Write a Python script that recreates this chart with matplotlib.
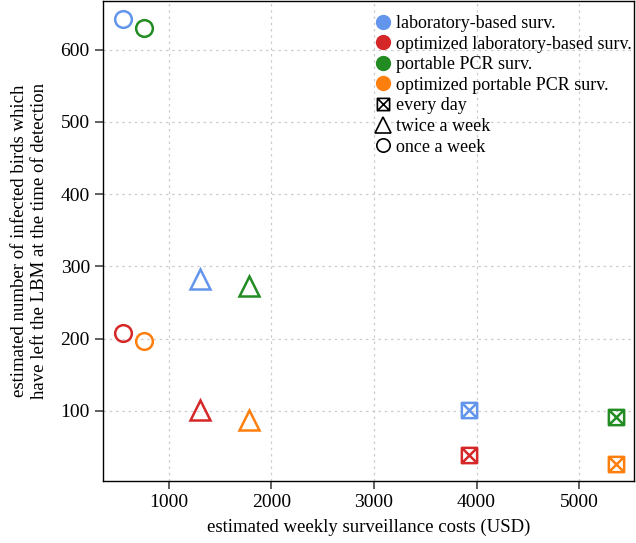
import numpy as np
import matplotlib
matplotlib.use("Agg")
import matplotlib.pyplot as plt
from matplotlib.path import Path
from matplotlib.lines import Line2D

plt.rcParams.update({
    "font.family": "Liberation Serif", "font.size": 13,
    "axes.linewidth": 1.0, "xtick.color": "#444444", "ytick.color": "#444444",
    "xtick.labelcolor": "black", "ytick.labelcolor": "black",
})

# surveillance strategies and their colours
strategies = ["laboratory-based surv.", "optimized laboratory-based surv.",
              "portable PCR surv.", "optimized portable PCR surv."]
colors = ["#6495ED", "#D62728", "#228B22", "#FF7F0E"]

# sampling frequencies
freqs = ["every day", "twice a week", "once a week"]

# costs (USD / week) per strategy: [every day, twice a week, once a week]
cost = {
    "laboratory-based surv.":           [3930, 1305, 553],
    "optimized laboratory-based surv.": [3930, 1305, 553],
    "portable PCR surv.":               [5360, 1783, 760],
    "optimized portable PCR surv.":     [5360, 1783, 760],
}
# infected birds that left the LBM before detection
birds = {
    "laboratory-based surv.":           [102, 283, 642],
    "optimized laboratory-based surv.": [39, 101, 208],
    "portable PCR surv.":               [91, 273, 630],
    "optimized portable PCR surv.":     [27, 88, 197],
}

# square with a cross inside
boxx = Path([(-1, -1), (1, -1), (1, 1), (-1, 1), (-1, -1), (1, 1), (-1, 1), (1, -1)],
            [Path.MOVETO, Path.LINETO, Path.LINETO, Path.LINETO, Path.LINETO,
             Path.LINETO, Path.MOVETO, Path.LINETO])
markers = [boxx, "^", "o"]
msizes = [11, 15, 12]

fig = plt.figure(figsize=(6.36, 5.43), dpi=100)
ax = fig.add_axes([0.162, 0.114, 0.835, 0.884])

for s, col in zip(strategies, colors):
    for i in range(3):
        ax.plot(cost[s][i], birds[s][i], linestyle="none", marker=markers[i],
                markersize=msizes[i], markerfacecolor="none", markeredgecolor=col,
                markeredgewidth=1.8, zorder=3)

ax.set_xlim(360, 5535)
ax.set_ylim(3, 667)
ax.set_xticks([1000, 2000, 3000, 4000, 5000])
ax.set_yticks([100, 200, 300, 400, 500, 600])
ax.tick_params(direction="out", length=6, width=1.2, labelsize=14)
ax.grid(True, color="#CCCCCC", linestyle=(0, (2, 3)), linewidth=0.9)
ax.set_axisbelow(True)
ax.set_xlabel("estimated weekly surveillance costs (USD)", fontsize=13.5, labelpad=5)
ax.set_ylabel("estimated number of infected birds which\nhave left the LBM at the time of detection",
              fontsize=13.5, linespacing=1.2, labelpad=9)

handles = [Line2D([], [], linestyle="none", marker="o", markersize=10,
                  color=c, markeredgecolor=c) for c in colors]
handles += [Line2D([], [], linestyle="none", marker=m, markersize=ms * 0.8,
                   markerfacecolor="none", markeredgecolor="black", markeredgewidth=1.2)
            for m, ms in zip(markers, msizes)]
ax.legend(handles, strategies + freqs, loc="upper right", bbox_to_anchor=(1.012, 0.99),
          frameon=False, fontsize=13, handletextpad=0.2, handlelength=1.0,
          labelspacing=0.2, borderaxespad=0.0, borderpad=0.5)

fig.savefig("out.png", dpi=100)
